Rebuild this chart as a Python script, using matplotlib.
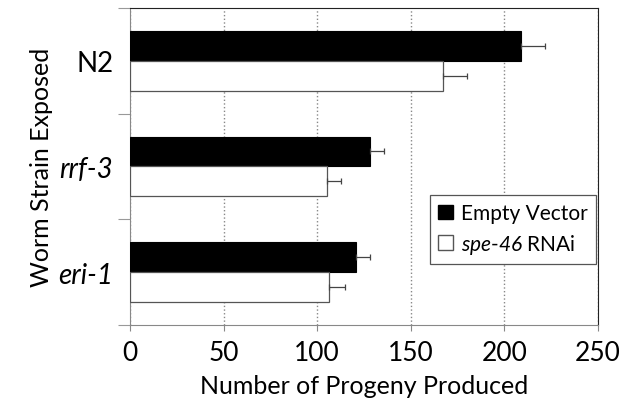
import matplotlib
matplotlib.use("Agg")
import matplotlib.pyplot as plt
from matplotlib.patches import Patch
import numpy as np

plt.rcParams['font.family'] = ['Lato', 'DejaVu Sans']
plt.rcParams['mathtext.fontset'] = 'custom'
plt.rcParams['mathtext.rm'] = 'Lato'
plt.rcParams['mathtext.sf'] = 'Lato:italic'

strains = ["N2", "rrf-3", "eri-1"]
strain_italic = [False, True, True]
empty_vector = [209, 128, 121]
empty_vector_err = [12.5, 7.5, 7.5]
spe46_rnai = [167, 105.5, 106.5]
spe46_rnai_err = [13, 7.5, 8.5]
xticks = [0, 50, 100, 150, 200, 250]

fig = plt.figure(figsize=(6.28, 4.02), dpi=100)
ax = fig.add_axes([0.207, 0.189, 0.745, 0.789])

centers = np.arange(len(strains))[::-1] + 0.5
h = 0.283
zeros = [0] * len(strains)
ax.barh(centers + h / 2, empty_vector, height=h, color="black", edgecolor="black",
        linewidth=0.8, xerr=[zeros, empty_vector_err],
        error_kw=dict(ecolor="#444444", elinewidth=0.9, capsize=2, capthick=0.9), zorder=3)
ax.barh(centers - h / 2, spe46_rnai, height=h, color="white", edgecolor="#555555",
        linewidth=0.9, xerr=[zeros, spe46_rnai_err],
        error_kw=dict(ecolor="#444444", elinewidth=0.9, capsize=2, capthick=0.9), zorder=3)

ax.set_xlim(0, 250)
ax.set_ylim(0, 3)
ax.set_xticks(xticks)
ax.set_xticklabels([str(t) for t in xticks], fontsize=19)
ax.xaxis.grid(True, linestyle=":", color="#888888", linewidth=1.0, zorder=0)
ax.tick_params(axis="x", length=4, color="#888888", pad=7)

ax.set_yticks([0, 1, 2, 3])
ax.set_yticklabels([])
ax.tick_params(axis="y", which="major", length=9, color="#999999")
ax.set_yticks(centers, minor=True)
ax.set_yticklabels(strains, minor=True, fontsize=20)
for lab, it in zip(ax.get_yticklabels(minor=True), strain_italic):
    if it:
        lab.set_style("italic")
ax.tick_params(axis="y", which="minor", length=0, pad=12)

for side in ["left", "bottom"]:
    ax.spines[side].set_color("#888888")
for side in ["top", "right"]:
    ax.spines[side].set_color("#222222")

ax.set_xlabel("Number of Progeny Produced", fontsize=18, labelpad=6)
ax.set_ylabel("Worm Strain Exposed", fontsize=18, labelpad=4)

handles = [Patch(facecolor="black", edgecolor="black"),
           Patch(facecolor="white", edgecolor="#555555")]
leg = ax.legend(handles, ["Empty Vector", r"$\mathsf{spe}$-$\mathsf{46}$ RNAi"],
                loc="upper left", bbox_to_anchor=(0.641, 0.41), borderaxespad=0,
                fontsize=15, frameon=True, fancybox=False, framealpha=1,
                edgecolor="#555555", handlelength=0.7, handleheight=0.7,
                handletextpad=0.4, labelspacing=0.4, borderpad=0.4)
leg.get_frame().set_linewidth(0.9)

fig.savefig("out.png", dpi=100)
